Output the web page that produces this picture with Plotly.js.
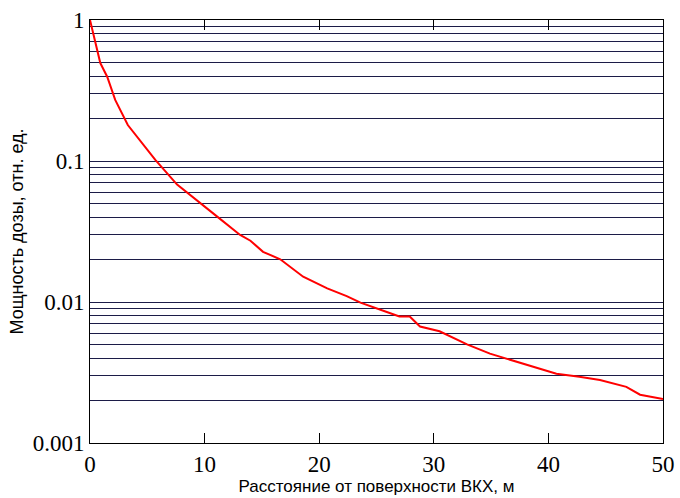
<!DOCTYPE html>
<html>
<head>
<meta charset="utf-8">
<script src="https://cdn.plot.ly/plotly-3.0.1.min.js"></script>
<style>html,body{margin:0;padding:0;background:#fff;}#chart{width:680px;height:498px;}</style>
</head>
<body>
<div id="chart"></div>
<script>
// Distance from surface, m
const distance = [0, 0.9, 1.5, 2.2, 3.3, 4.5, 5.7, 7.6, 9.6, 11.1, 13.1, 14.0, 15.1, 16.6, 18.6, 20.7, 22.4, 23.6, 25.9, 27.0, 27.9, 28.8, 30.5, 32.9, 34.9, 36.6, 38.5, 40.7, 42.7, 44.5, 46.8, 48.0, 50];
// Relative dose rate
const doseRate = [1, 0.495, 0.396, 0.271, 0.18, 0.135, 0.102, 0.068, 0.05, 0.0403, 0.0299, 0.0272, 0.0227, 0.0201, 0.0151, 0.0125, 0.011, 0.0099, 0.0085, 0.0079, 0.0079, 0.0067, 0.0062, 0.005, 0.0043, 0.0039, 0.0035, 0.0031, 0.00295, 0.0028, 0.0025, 0.0022, 0.00205];

const yMajor = [0.001, 0.01, 0.1, 1];
const yMajorText = ["0.001", "0.01", "0.1", "1"];
const xTicks = [0, 10, 20, 30, 40, 50];

// build gridline positions (1..9 in each decade) from the major ticks
const yGridVals = [];
const yGridText = [];
yMajor.forEach((m, i) => {
  if (i === yMajor.length - 1) { yGridVals.push(m); yGridText.push(yMajorText[i]); return; }
  for (let k = 1; k <= 9; k++) {
    yGridVals.push(m * k);
    yGridText.push(k === 1 ? yMajorText[i] : "");
  }
});

const trace = {
  x: distance,
  y: doseRate,
  type: 'scatter',
  mode: 'lines',
  line: {color: '#ff0000', width: 2},
  hoverinfo: 'skip'
};

const layout = {
  width: 680, height: 498,
  margin: {l: 90, r: 17, t: 20, b: 55},
  paper_bgcolor: '#fff',
  plot_bgcolor: '#fff',
  showlegend: false,
  xaxis: {
    range: [0, 50],
    tickvals: xTicks,
    ticktext: xTicks.map(String),
    ticks: 'inside', ticklen: 10, tickcolor: '#000', tickwidth: 1,
    showgrid: false, zeroline: false,
    showline: true, linecolor: '#000', linewidth: 1, mirror: 'ticks',
    tickfont: {family: 'Liberation Serif, Times New Roman, serif', size: 23, color: '#000'},
    title: {text: 'Расстояние от поверхности ВКХ, м', font: {family: 'Liberation Sans, Arial, sans-serif', size: 17, color: '#000'}, standoff: 1}
  },
  yaxis: {
    type: 'log',
    range: [-3, 0],
    tickvals: yGridVals,
    ticktext: yGridText,
    ticks: '',
    showgrid: true, gridcolor: '#1c1c48', gridwidth: 1,
    zeroline: false,
    showline: true, linecolor: '#000', linewidth: 1, mirror: true,
    tickfont: {family: 'Liberation Serif, Times New Roman, serif', size: 23, color: '#000'},
    title: {text: 'Мощность дозы, отн. ед.', font: {family: 'Liberation Sans, Arial, sans-serif', size: 18, color: '#000'}, standoff: 4}
  }
};

Plotly.newPlot('chart', [trace], layout, {staticPlot: true, displayModeBar: false});
</script>
</body>
</html>
